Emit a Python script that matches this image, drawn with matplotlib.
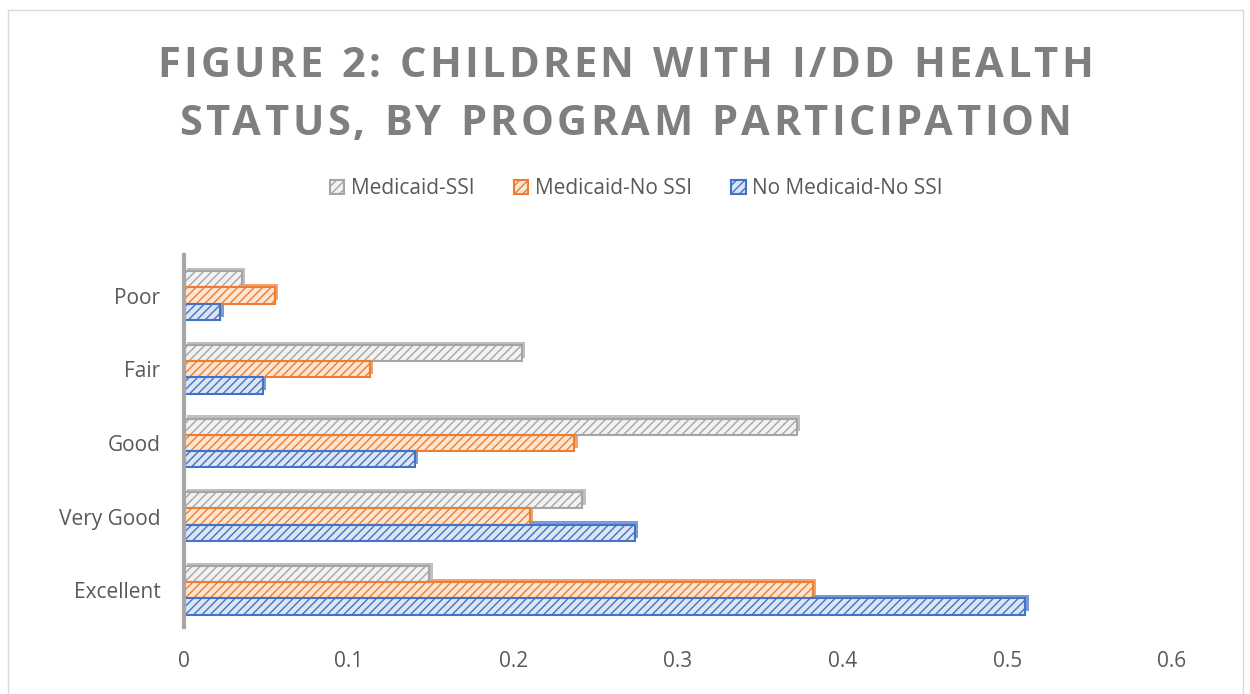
import matplotlib.pyplot as plt
import matplotlib.patches as mpatches
import numpy as np

plt.rcParams['font.family'] = ['Open Sans', 'DejaVu Sans']

# health status categories, bottom to top
categories = ["Excellent", "Very Good", "Good", "Fair", "Poor"]
medicaid_ssi = [0.149, 0.242, 0.372, 0.205, 0.035]
medicaid_no_ssi = [0.382, 0.210, 0.237, 0.113, 0.055]
no_medicaid_no_ssi = [0.511, 0.274, 0.140, 0.048, 0.022]

series = [
    ("Medicaid-SSI", medicaid_ssi, "#f2f2f2", "#a5a5a5"),
    ("Medicaid-No SSI", medicaid_no_ssi, "#fde5d2", "#ed7d31"),
    ("No Medicaid-No SSI", no_medicaid_no_ssi, "#dce5f5", "#4472c4"),
]

title_lines = ["FIGURE 2: CHILDREN WITH I/DD HEALTH", "STATUS, BY PROGRAM PARTICIPATION"]

gray = "#595959"

fig = plt.figure(figsize=(12.5, 6.94), dpi=100)
ax = fig.add_axes([0.1472, 0.0965, 0.7904, 0.536])

y = np.arange(len(categories))
h = 0.22
offsets = [h, 0, -h]
handles = []
for (name, vals, fc, ec), off in zip(series, offsets):
    # thin darker strip on top for the 3D look
    ax.barh(y + off + 0.045, vals, height=h, left=0.002, color=ec, alpha=0.7, linewidth=0, zorder=1)
    b = ax.barh(y + off, vals, height=h, color=fc, edgecolor=ec, hatch="////",
                linewidth=1.5, zorder=2, label=name)
    handles.append(b)

ax.set_xlim(0, 0.6)
ax.set_ylim(-0.5, 4.55)
ax.set_xticks([0, 0.1, 0.2, 0.3, 0.4, 0.5, 0.6])
ax.set_xticklabels(["0", "0.1", "0.2", "0.3", "0.4", "0.5", "0.6"])
ax.set_yticks(y)
ax.set_yticklabels(categories)
ax.tick_params(axis="both", length=0, labelsize=15, labelcolor=gray)
ax.tick_params(axis="x", pad=17)
ax.tick_params(axis="y", pad=17)
for s in ["top", "right", "bottom"]:
    ax.spines[s].set_visible(False)
ax.spines["left"].set_color("#a6a6a6")
ax.spines["left"].set_linewidth(3)

# title with letter spacing, one character at a time
renderer = fig.canvas.get_renderer()
W = fig.bbox.width
spacing = 3.3
for line, yc in zip(title_lines, [0.904, 0.820]):
    widths = []
    for ch in line:
        t = fig.text(0, 0, ch if ch != " " else "I", fontsize=30, fontweight="bold")
        w = t.get_window_extent(renderer).width
        if ch == " ":
            w = w * 0.9
        widths.append(w)
        t.remove()
    total = sum(widths) + spacing * (len(line) - 1)
    x = (W - total) / 2
    for ch, w in zip(line, widths):
        if ch != " ":
            fig.text(x / W, yc, ch, ha="left", va="center", fontsize=30,
                     fontweight="bold", color="#7f7f7f")
        x += w + spacing

fig.legend(handles=handles, loc="center", bbox_to_anchor=(0.509, 0.728), ncol=3,
           frameon=False, fontsize=15, labelcolor=gray, handlelength=0.7,
           handleheight=0.7, columnspacing=1.9, handletextpad=0.3)

fig.patches.append(mpatches.Rectangle((0.006, -0.01), 0.988, 0.996, transform=fig.transFigure,
                                      fill=False, edgecolor="#d9d9d9", linewidth=1))

fig.savefig("out.png", dpi=100)
